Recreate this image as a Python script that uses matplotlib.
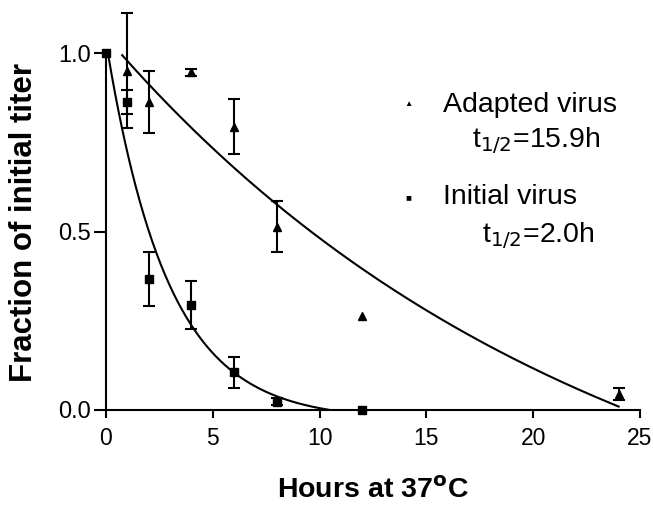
import numpy as np
import matplotlib
matplotlib.use("Agg")
import matplotlib.pyplot as plt

plt.rcParams['font.family'] = ['Liberation Sans', 'DejaVu Sans']

# Adapted virus (triangles); None = no error bar
adapted_x = [1, 2, 4, 6, 8, 12, 24]
adapted_y = [0.951, 0.865, 0.947, 0.794, 0.514, 0.264, 0.045]
adapted_err = [0.161, 0.087, 0.010, 0.077, 0.072, None, 0.018]

# Initial virus (squares)
initial_x = [0, 1, 2, 4, 6, 8, 12]
initial_y = [1.0, 0.863, 0.368, 0.295, 0.106, 0.023, 0.0]
initial_err = [None, 0.034, 0.076, 0.067, 0.043, 0.010, None]

# One-phase decay fits: y = A*exp(-ln2*t/t_half) + plateau
adapted_fit = dict(t_half=15.9, amp=1.599, plateau=-0.552, t0=0.76, t1=24.0)
initial_fit = dict(t_half=2.0, amp=1.061, plateau=-0.028, t0=0.1, t1=12.0)

x_ticks = [0, 5, 10, 15, 20, 25]
y_ticks = [0.0, 0.5, 1.0]
y_ticklabels = ["0.0", "0.5", "1.0"]

fig = plt.figure(figsize=(6.53, 5.05), dpi=100)
ax = fig.add_axes([106/653, 1-410/505, (640-106)/653, (410-53.4)/505])

def curve(p):
    t = np.linspace(p['t0'], p['t1'], 300)
    return t, p['amp']*np.exp(-np.log(2)*t/p['t_half']) + p['plateau']

t, y = curve(adapted_fit)
ax.plot(t, y, color='black', lw=1.5, clip_on=True)
t, y = curve(initial_fit)
ax.plot(t, y, color='black', lw=1.5, clip_on=True)

def errs(e):
    return np.array([np.nan if v is None else v for v in e], dtype=float)

eb1 = ax.errorbar(adapted_x, adapted_y, yerr=errs(adapted_err), fmt='^', color='black',
                  ms=6, capsize=4, capthick=1.5, elinewidth=1.5, clip_on=False)
eb2 = ax.errorbar(initial_x, initial_y, yerr=errs(initial_err), fmt='s', color='black',
                  ms=5.5, capsize=4, capthick=1.5, elinewidth=1.5, clip_on=False)
for eb in (eb1, eb2):
    for art in list(eb.lines[1]) + list(eb.lines[2]):
        art.set_clip_on(False)

ax.set_xlim(0, 25)
ax.set_ylim(0, 1.0)
ax.set_xticks(x_ticks)
ax.set_yticks(y_ticks)
ax.set_yticklabels(y_ticklabels)
ax.tick_params(direction='out', width=1.5)
ax.tick_params(axis='x', length=6, pad=6, labelsize=16.5)
ax.tick_params(axis='y', length=9, pad=2, labelsize=17)
for s in ['top', 'right']:
    ax.spines[s].set_visible(False)
for s in ['left', 'bottom']:
    ax.spines[s].set_linewidth(1.5)

ax.set_xlabel("Hours at 37$^{\\mathbf{o}}$C", fontsize=20.5, fontweight='bold')
ax.xaxis.set_label_coords(0.5, -(498-410)/356.6)
ax.xaxis.label.set_va('baseline')
ax.set_ylabel("Fraction of initial titer", fontsize=22.5, fontweight='bold')
ax.yaxis.set_label_coords(-(106-24)/534, (410-222)/356.6)
ax.yaxis.label.set_va('center')

# legend-like annotations
fig.text(408/653, 1-105/505, "\u25B2", fontsize=6, ha='center', va='center')
fig.text(443/653, 1-105/505, "Adapted virus", fontsize=20.5, ha='left', va='center')
fig.text(472/653, 1-141/505, "t$_{1/2}$=15.9h", fontsize=20.5, ha='left', va='center')
fig.text(408/653, 1-197/505, "\u25A0", fontsize=7, ha='center', va='center')
fig.text(443/653, 1-197/505, "Initial virus", fontsize=20.5, ha='left', va='center')
fig.text(482/653, 1-236/505, "t$_{1/2}$=2.0h", fontsize=20.5, ha='left', va='center')

fig.savefig("out.png", dpi=100)
